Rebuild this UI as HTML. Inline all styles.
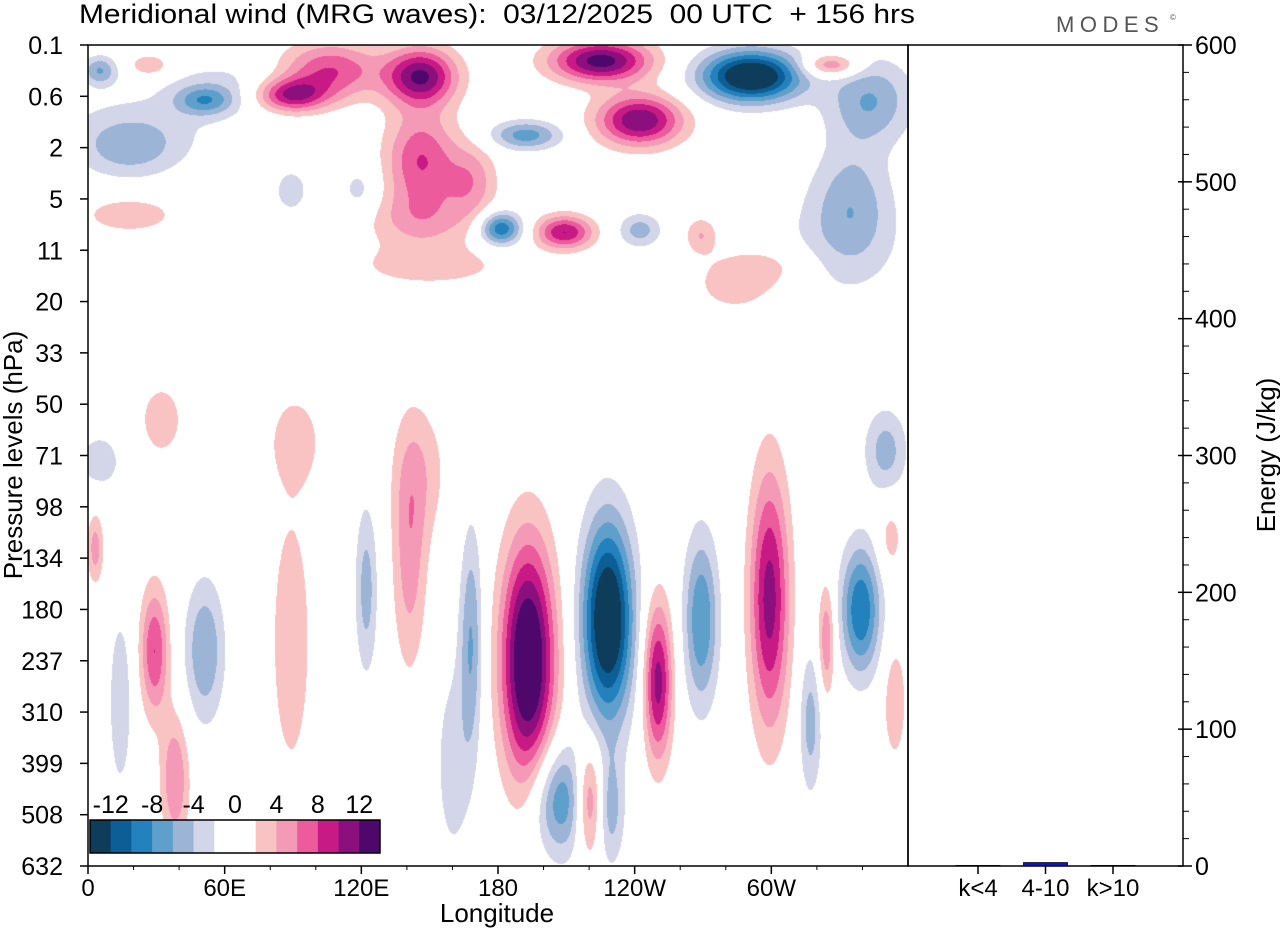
<!DOCTYPE html>
<html><head><meta charset="utf-8"><style>
html,body{margin:0;padding:0;background:#fff;}
#wrap{position:relative;width:1280px;height:930px;font-family:"Liberation Sans",sans-serif;}
canvas{position:absolute;left:88px;top:45px;}
svg{position:absolute;left:0;top:0;}
</style></head><body>
<div id="wrap">
<canvas id="field" width="820" height="821"></canvas>
<svg id="axes" width="1280" height="930"></svg>
</div>
<script>
// Pressure-level tick labels (evenly spaced level index 0..16)
const levelLabels = ["0.1","0.6","2","5","11","20","33","50","71","98","134","180","237","310","399","508","632"];
const lonTicks = [0,60,120,180,240,300];
const lonLabels = ["0","60E","120E","180","120W","60W"];
const energyTicks = [0,100,200,300,400,500,600];
const energyCats = ["k<4","4-10","k>10"];
const energyVals = [0.4,2.5,0.4];
const legendBounds = [-12,-10,-8,-6,-4,-2,0,2,4,6,8,10,12];
const legendLabels = ["-12","-8","-4","0","4","8","12"];
const colors = ["#0d3d5a","#0c5f96","#2381bd","#5e9fcb","#9cb4d6","#d3d6e8","#ffffff","#ffffff","#f9c3c3","#f59ab6","#ec5b9b","#c71a85","#8c0f7e","#4e076b"];
// Wave anomaly blobs: longitude (deg E), level index, sigma lon, sigma level, amplitude (m/s)
const blobLon = [193,228,207,250,269,299,339,324,317,220,229,168,141,122,89,51,29,14,38,3,5,32,91,146,354,352,350,
 291,343,335,225,242,146,106,89,146,168,146,209,181,192,51,5,18,27,18,326,242,269,284,119,89,
 150,160,20,330,300,60];
const blobLev = [12.0,11.2,14.7,12.4,11.2,10.8,11.0,11.6,13.2,14.7,14.9,11.6,10.0,10.6,11.6,11.8,11.8,12.8,14.3,9.8,8.1,7.3,7.7,8.3,12.8,9.6,7.9,
 0.6,1.07,3.0,0.3,1.46,0.6,0.49,0.97,2.24,2.63,3.41,3.64,3.57,1.75,1.07,0.49,2.05,0.39,3.3,0.39,3.6,3.7,4.68,2.83,2.83,
 4.3,14.0,1.6,3.9,4.3,0.8];
const blobSx = [8.3,7.9,8.8,4.4,5.3,6.1,6.1,2.6,3.5,4.4,4.4,3.5,5.3,3.5,7.9,6.1,4.4,3.5,4.4,2.6,8,8,8,8.8,3.5,4,6.6,
 15.4,13.2,12,15.4,13.2,11,15.4,11,11,8,17.6,8.8,6.6,11,8.8,5.3,15.4,6.6,13.2,8.8,6.6,5,13.2,6,6,
 25,6,25,20,15,20];
const blobSy = [1.62,1.36,0.78,1.07,1.17,1.75,0.88,0.78,0.97,0.78,0.78,1.56,1.56,1.17,2.34,0.97,0.88,1.17,0.88,0.49,0.45,0.6,0.6,0.97,0.78,0.5,0.58,
 0.35,0.58,0.8,0.29,0.35,0.39,0.39,0.23,0.68,0.5,0.39,0.23,0.23,0.2,0.2,0.2,0.39,0.16,0.23,0.16,0.23,0.25,0.39,0.35,0.35,
 0.3,1.5,0.5,0.8,0.3,0.4];
const blobAmp = [16,-16,-8,11,-8,11,-10,6,-5,8,-5,-6,5,-5,3,-6,8,-4,6,5,-3,3,3,3,4,3,-5,
 -16,-6,-4.5,13,12,12,8,10,8,5,4,10,-10,-7,-6,-6,-4,4,4,7,-5,4,3,-3,-3,
 3,-3,-2.5,-2.5,2.5,-2.5];

const X0=88,Y0=45,W=820,H=821,NL=16;
const xOf = lon => X0 + lon/360*W;
const yOf = lev => Y0 + lev/NL*H;
const eY = v => 866 - v/600*821;

// field
const cv=document.getElementById('field'),ctx=cv.getContext('2d');
const img=ctx.createImageData(W,H);
const rgb=colors.map(c=>[parseInt(c.substr(1,2),16),parseInt(c.substr(3,2),16),parseInt(c.substr(5,2),16)]);
const bx=blobLon.map(v=>xOf(v)-X0), by=blobLev.map(v=>yOf(v)-Y0);
const sx=blobSx.map(v=>v/360*W), sy=blobSy.map(v=>v/NL*H);
for(let j=0;j<H;j++){for(let i=0;i<W;i++){let v=0;
 for(let k=0;k<blobAmp.length;k++){const dx=(i-bx[k])/sx[k],dy=(j-by[k])/sy[k];const r=dx*dx+dy*dy;if(r<20)v+=blobAmp[k]*Math.exp(-0.5*r);}
 let idx=Math.floor(v/2)+7; idx=Math.max(0,Math.min(13,idx));
 const p=(j*W+i)*4,c=rgb[idx];img.data[p]=c[0];img.data[p+1]=c[1];img.data[p+2]=c[2];img.data[p+3]=255;}}
ctx.putImageData(img,0,0);

const svg=document.getElementById('axes');const NS='http://www.w3.org/2000/svg';
function el(t,a,txt){const e=document.createElementNS(NS,t);for(const k in a)e.setAttribute(k,a[k]);if(txt!==undefined)e.textContent=txt;svg.appendChild(e);return e;}
let e;
e=el('text',{x:79,y:23,'font-size':27,textLength:836,lengthAdjust:'spacingAndGlyphs'},'Meridional wind (MRG waves):  03/12/2025  00 UTC  + 156 hrs');e.setAttribute('style','white-space:pre');


e=el('text',{x:1056,y:32,'font-size':22,fill:'#555','letter-spacing':'5.5'},'MODES');


el('text',{x:1170,y:20,'font-size':8,fill:'#555'},'©');
// frames
e=el('rect',{x:88,y:45,width:820,height:821,fill:'none',stroke:'#000','stroke-width':1.5});


e=el('rect',{x:908,y:45,width:275,height:821,fill:'none',stroke:'#000','stroke-width':1.5});


// y ticks
levelLabels.forEach((l,i)=>{const y=yOf(i);
 el('line',{x1:80,x2:88,y1:y,y2:y,stroke:'#000','stroke-width':1.5});
 e=el('text',{x:63,y:y+9,'font-size':25,'text-anchor':'end'},l);
 
 });
// x ticks
lonTicks.forEach((t,i)=>{const x=xOf(t);
 el('line',{x1:x,x2:x,y1:866,y2:874,stroke:'#000','stroke-width':1.5});
 e=el('text',{x:x,y:896,'font-size':24,'text-anchor':'middle'},lonLabels[i]);
 
 });
for(let t=20;t<360;t+=20){if(t%60)el('line',{x1:xOf(t),x2:xOf(t),y1:866,y2:870,stroke:'#000'});}
e=el('text',{x:497,y:922,'font-size':26,'text-anchor':'middle'},'Longitude');


e=el('text',{x:0,y:0,'font-size':26,'text-anchor':'middle',transform:'translate(22,455) rotate(-90)'},'Pressure levels (hPa)');


// energy axis
energyTicks.forEach(t=>{const y=eY(t);
 el('line',{x1:1178,x2:1192,y1:y,y2:y,stroke:'#000','stroke-width':1.5});
 e=el('text',{x:1195,y:y+9,'font-size':25},String(t));
 
 });
for(let t=20;t<600;t+=20){if(t%100)el('line',{x1:1183,x2:1189,y1:eY(t),y2:eY(t),stroke:'#000'});}
e=el('text',{x:0,y:0,'font-size':26,'text-anchor':'middle',transform:'translate(1275,455) rotate(-90)'},'Energy (J/kg)');


energyCats.forEach((c,i)=>{const x=978+i*67.5;
 el('line',{x1:x,x2:x,y1:866,y2:874,stroke:'#000','stroke-width':1.5});
 e=el('text',{x:x,y:896,'font-size':24,'text-anchor':'middle'},c);
 
 
 const h=866-eY(energyVals[i]);
 e=el('rect',{x:x-22,y:866-h,width:44,height:h,fill:i==1?'#1010e0':'#444',stroke:'#000','stroke-width':0.8});
 
 });
// legend
const lx=90,lw=290/14;
colors.forEach((c,i)=>{e=el('rect',{x:lx+i*lw,y:820,width:lw+0.3,height:33,fill:c});
 
 });
el('rect',{x:lx,y:820,width:290,height:33,fill:'none',stroke:'#000','stroke-width':1.5});
legendLabels.forEach((l,i)=>{const x=lx+lw*(1+2*i);
 e=el('text',{x:x,y:813,'font-size':25,'text-anchor':'middle'},l);
 
 });
</script>
</body></html>
